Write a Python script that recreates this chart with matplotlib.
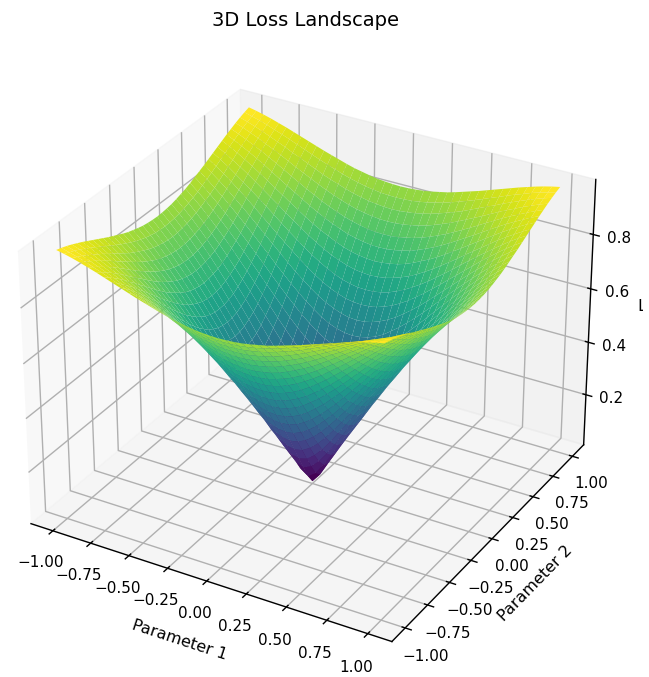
import numpy as np
import matplotlib
matplotlib.use("Agg")
import matplotlib.pyplot as plt
from matplotlib.transforms import Bbox

param_steps = [-1.0, -0.95, -0.9, -0.85, -0.8, -0.75, -0.7, -0.65, -0.6, -0.55, -0.5,
               -0.45, -0.4, -0.35, -0.3, -0.25, -0.2, -0.15, -0.1, -0.05, 0.0,
               0.05, 0.1, 0.15, 0.2, 0.25, 0.3, 0.35, 0.4, 0.45, 0.5,
               0.55, 0.6, 0.65, 0.7, 0.75, 0.8, 0.85, 0.9, 0.95, 1.0]

# loss for |param 1| and |param 2| from 0 to 1 in 0.05 steps.
# the bowl looks the same on all sides, so each row starts on the diagonal
loss_rows = [
    [0.015, 0.050, 0.100, 0.149, 0.199, 0.247, 0.296, 0.343, 0.389, 0.435, 0.479, 0.523, 0.565, 0.605, 0.644, 0.682, 0.717, 0.751, 0.783, 0.813, 0.841],
    [0.071, 0.112, 0.157, 0.205, 0.252, 0.299, 0.347, 0.392, 0.438, 0.481, 0.525, 0.566, 0.607, 0.646, 0.683, 0.718, 0.752, 0.784, 0.814, 0.842],
    [0.141, 0.179, 0.222, 0.266, 0.311, 0.356, 0.400, 0.445, 0.488, 0.530, 0.571, 0.611, 0.650, 0.687, 0.721, 0.755, 0.787, 0.816, 0.844],
    [0.210, 0.247, 0.288, 0.329, 0.372, 0.414, 0.456, 0.499, 0.540, 0.579, 0.619, 0.656, 0.693, 0.727, 0.760, 0.791, 0.820, 0.847],
    [0.279, 0.315, 0.353, 0.392, 0.432, 0.472, 0.513, 0.552, 0.591, 0.629, 0.665, 0.700, 0.734, 0.766, 0.797, 0.825, 0.852],
    [0.347, 0.381, 0.417, 0.455, 0.493, 0.530, 0.568, 0.605, 0.641, 0.677, 0.711, 0.743, 0.774, 0.804, 0.832, 0.858],
    [0.411, 0.445, 0.479, 0.515, 0.551, 0.586, 0.622, 0.656, 0.691, 0.723, 0.754, 0.784, 0.813, 0.839, 0.864],
    [0.475, 0.507, 0.540, 0.573, 0.607, 0.640, 0.673, 0.705, 0.736, 0.766, 0.795, 0.823, 0.848, 0.872],
    [0.536, 0.566, 0.597, 0.629, 0.660, 0.691, 0.721, 0.751, 0.779, 0.807, 0.833, 0.858, 0.881],
    [0.594, 0.623, 0.653, 0.682, 0.711, 0.739, 0.767, 0.794, 0.820, 0.844, 0.868, 0.890],
    [0.650, 0.677, 0.704, 0.731, 0.758, 0.784, 0.809, 0.834, 0.857, 0.879, 0.899],
    [0.702, 0.727, 0.752, 0.777, 0.802, 0.825, 0.848, 0.870, 0.890, 0.909],
    [0.751, 0.774, 0.797, 0.819, 0.841, 0.862, 0.883, 0.902, 0.919],
    [0.795, 0.816, 0.837, 0.858, 0.877, 0.895, 0.913, 0.929],
    [0.836, 0.855, 0.874, 0.892, 0.909, 0.925, 0.939],
    [0.873, 0.890, 0.906, 0.921, 0.936, 0.949],
    [0.905, 0.919, 0.933, 0.946, 0.958],
    [0.933, 0.945, 0.957, 0.967],
    [0.956, 0.966, 0.975],
    [0.974, 0.982],
    [0.988],
]

plt.rcParams['grid.linewidth'] = 1.0
plt.rcParams['axes.linewidth'] = 1.0
plt.rcParams['xtick.major.width'] = 1.0
plt.rcParams['ytick.major.width'] = 1.0

quad = np.zeros((21, 21))
for i, row in enumerate(loss_rows):
    quad[i, i:] = row
    quad[i:, i] = row
loss = np.vstack([quad[:0:-1], quad])
loss = np.hstack([loss[:, :0:-1], loss])
X, Y = np.meshgrid(param_steps, param_steps)

fig = plt.figure(figsize=(6.49, 6.77), dpi=100)
ax = fig.add_axes([-0.027, -0.008, 0.99, 0.95], projection='3d')
ax.plot_surface(X, Y, loss, cmap='viridis', rstride=1, cstride=1, linewidth=0)
ax.set_zlim(0.006, 0.999)
ax.set_xlabel("Parameter 1", fontsize=11.5, labelpad=9)
ax.set_ylabel("Parameter 2", fontsize=11.5, labelpad=8)
ax.set_zlabel("Loss", fontsize=11.5, labelpad=8)
# the source image is cropped through this label, only the stem of the L shows
ax.zaxis.label.set_clip_box(Bbox([[0, 0], [643, 677]]))
ax.zaxis.label.set_clip_on(True)
ax.tick_params(labelsize=11)
ax.tick_params(axis='x', pad=5)
ax.tick_params(axis='y', pad=5)
fig.text(0.47, 0.97, "3D Loss Landscape", ha='center', va='center', fontsize=14)
plt.savefig("out.png")
plt.close()
